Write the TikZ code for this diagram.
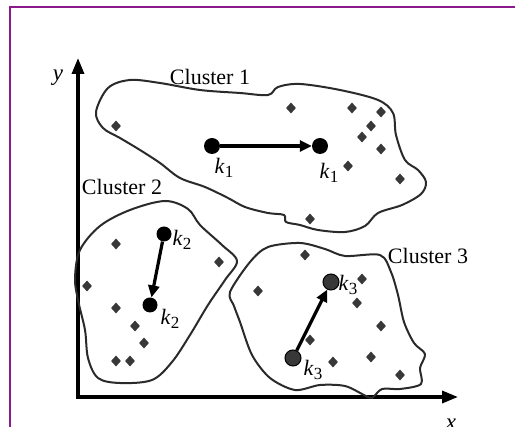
\documentclass[tikz,border=0pt]{standalone}
\usepackage{fontspec}
\setmainfont{Liberation Serif}
\usetikzlibrary{arrows.meta,shapes.geometric}
\definecolor{framepurple}{HTML}{8B1A8B}
\definecolor{blobgray}{HTML}{2A2A2A}
\definecolor{dgray}{HTML}{383838}
\tikzset{
  blob/.style={draw=blobgray,line width=2pt,line join=round},
  axis/.style={line width=3.4pt,-{Triangle[length=16pt,width=12pt]}},
  dpt/.style={diamond,fill=dgray,inner sep=0pt,minimum width=10pt,minimum height=11pt},
  cent/.style={circle,fill=black,inner sep=0pt,minimum size=16pt},
  centg/.style={circle,fill=dgray,draw=black,line width=1pt,inner sep=0pt,minimum size=16pt},
  clab/.style={font=\fontsize{22}{24}\selectfont,inner sep=0pt},
  klab/.style={font=\fontsize{22}{24}\selectfont,inner sep=0pt},
  mv/.style={line width=3.2pt,-{Triangle[length=12pt,width=11pt]}}
}
\newcommand{\kk}[1]{\textit{k}\raisebox{-0.35ex}{\fontsize{17}{18}\selectfont #1}}
\begin{document}
\begin{tikzpicture}[x=1pt,y=-1pt]
\useasboundingbox (0,0) rectangle (515,427);
\fill[white] (0,0) rectangle (515,427);
% frame
\draw[framepurple,line width=1.4pt] (10,427) -- (10,7) -- (515,7);
% axes
\coordinate (ytip) at (78,58);
\coordinate (xtip) at (458,397);
\draw[axis] (78,399) -- (ytip);
\draw[axis] (77,397) -- (xtip);
\node[font=\fontsize{23}{24}\selectfont\itshape] (ylab) at (58,78) {y};
\node[font=\fontsize{23}{24}\selectfont\itshape] (xlab) at (451,424) {x};
% cluster 1
\draw[blob] plot[smooth cycle,tension=0.55] coordinates {
 (96,112) (108,88) (130,80) (160,83) (200,90) (240,93) (268,95) (278,87) (300,84)
 (340,90) (378,100) (393,113) (396,135) (405,160) (418,170) (426,182) (421,194)
 (402,205) (378,213) (365,226) (345,232) (318,230) (300,225) (286,222) (284,215)
 (268,213) (245,207) (228,198) (205,187) (180,178) (160,163) (140,150) (120,138)
 (103,128)};
\node[clab] (c1) at (210,77) {Cluster 1};
\foreach \p [count=\i] in {(116,126),(291,108),(352,108),(381,112),(371,126),(362,137),(381,149),(348,166),(400,179),(310,219)}
  \node[dpt] (a\i) at \p {};
\node[cent] (k1a) at (212,146) {};
\node[cent] (k1b) at (320,146) {};
\node[klab] (k1al) at (224,168) {\kk{1}};
\node[klab] (k1bl) at (329,173) {\kk{1}};
\draw[mv] (k1a) -- (k1b);
% cluster 2
\draw[blob] plot[smooth cycle,tension=0.55] coordinates {
 (75,278) (80,250) (100,226) (130,210) (165,201) (188,209) (200,225) (222,245)
 (237,261) (225,280) (208,305) (190,335) (172,362) (152,380) (120,383) (98,378)
 (88,358) (85,330) (78,300)};
\node[clab] (c2) at (122,187) {Cluster 2};
\foreach \p [count=\i] in {(116,244),(219,262),(87,286),(116,308),(135,326),(144,343),(116,361),(130,361)}
  \node[dpt] (b\i) at \p {};
\node[cent,minimum size=15pt] (k2a) at (164,234) {};
\node[cent,minimum size=15pt] (k2b) at (150,305) {};
\node[klab] (k2al) at (182,240) {\kk{2}};
\node[klab] (k2bl) at (170,319) {\kk{2}};
\draw[mv] (k2a) -- (k2b);
% cluster 3
\draw[blob] plot[smooth cycle,tension=0.5] coordinates {
 (230,292) (250,262) (268,247) (300,243) (325,249) (345,256) (380,255)
 (391,272) (398,295) (404,322) (414,343) (425,354) (420,368) (421,384)
 (400,389) (382,389) (372,398) (364,395) (345,386) (320,385) (295,390)
 (270,378) (252,355) (240,322) (234,306)};
\node[clab] (c3) at (428,256) {Cluster 3};
\foreach \p [count=\i] in {(305,255),(258,291),(362,279),(357,303),(381,326),(310,340),(333,362),(371,357),(400,375)}
  \node[dpt] (e\i) at \p {};
\node[centg] (k3a) at (293,358) {};
\node[centg] (k3b) at (331,282) {};
\node[klab] (k3al) at (313,370) {\kk{3}};
\node[klab] (k3bl) at (348,285) {\kk{3}};
\draw[mv] (k3a) -- (k3b);
\end{tikzpicture}
\end{document}
